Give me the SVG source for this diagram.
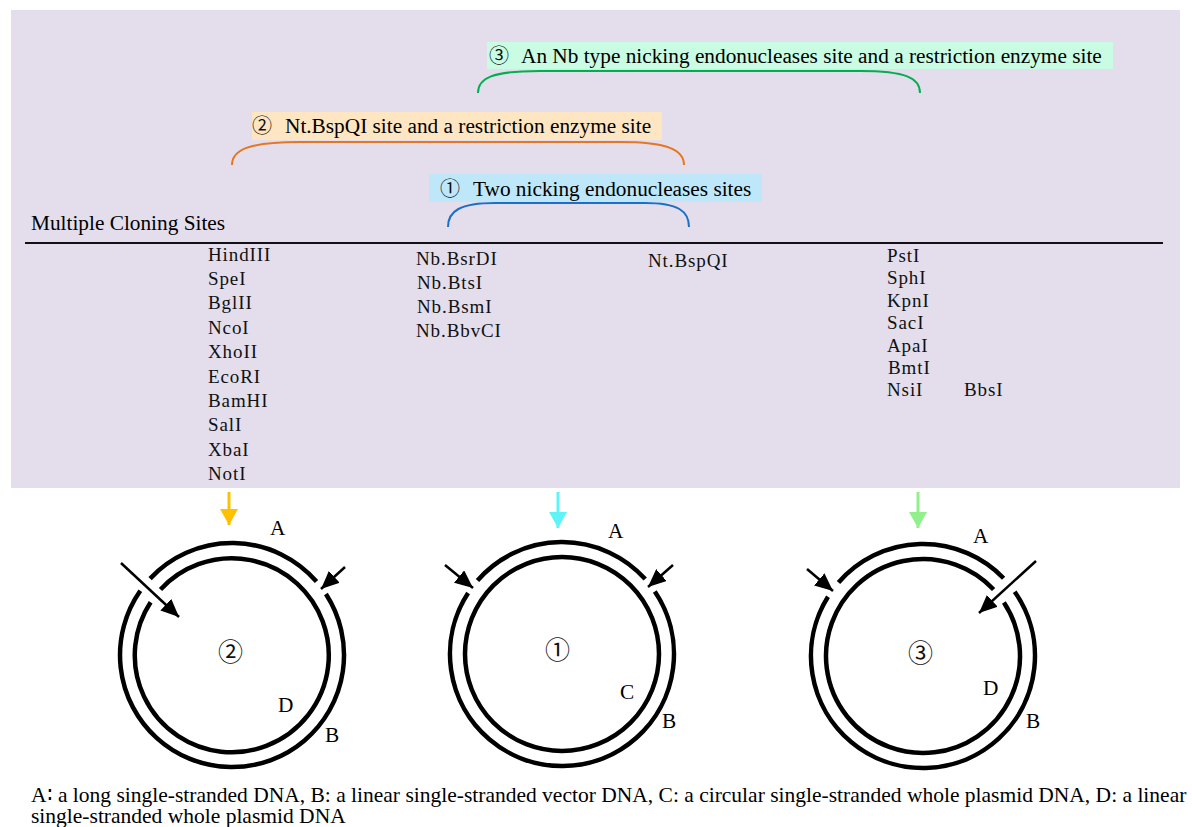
<svg xmlns="http://www.w3.org/2000/svg" width="1192" height="827" viewBox="0 0 1192 827">
<style>
.t{font-family:"Liberation Serif","Times New Roman",serif;font-size:21.3px;fill:#000}
.cap{font-size:21.5px}
.cd{font-family:"Noto Sans CJK JP","DejaVu Sans",sans-serif;font-size:20px;fill:#111}
.cdb{font-size:25px}
.enz{font-family:"Liberation Serif","Times New Roman",serif;font-size:19px;letter-spacing:0.9px;fill:#111}
.ring{fill:none;stroke:#000;stroke-width:4.5}
.arr{fill:none;stroke:#000;stroke-width:2.5}
.brace{fill:none;stroke-width:2}
</style>
<defs>
<marker id="mk" markerUnits="userSpaceOnUse" markerWidth="20" markerHeight="16" refX="18" refY="8" orient="auto"><path d="M0,0 L18,8 L0,16 Z" fill="#000"/></marker>
<marker id="mo" markerUnits="userSpaceOnUse" markerWidth="16" markerHeight="18" refX="16" refY="9" orient="auto"><path d="M0,0 L16,9 L0,18 Z" fill="#FFC000"/></marker>
<marker id="mc" markerUnits="userSpaceOnUse" markerWidth="16" markerHeight="18" refX="16" refY="9" orient="auto"><path d="M0,0 L16,9 L0,18 Z" fill="#5EF4F7"/></marker>
<marker id="mg" markerUnits="userSpaceOnUse" markerWidth="16" markerHeight="18" refX="16" refY="9" orient="auto"><path d="M0,0 L16,9 L0,18 Z" fill="#8FF08C"/></marker>
</defs>

<g id="panel">
<rect x="11" y="10" width="1169" height="478" fill="#E4DEEC"/>
</g>

<g id="label3">
<rect x="487" y="42" width="626" height="27" fill="#C9FCE3"/>
<text class="t" y="63"><tspan class="cd" x="489">③</tspan><tspan x="521">An Nb type nicking endonucleases site and a restriction enzyme site</tspan></text>
</g>
<g id="label2">
<rect x="252" y="112" width="410" height="28" fill="#FEE6C2"/>
<text class="t" y="133"><tspan class="cd" x="252">②</tspan><tspan x="285">Nt.BspQI site and a restriction enzyme site</tspan></text>
</g>
<g id="label1">
<rect x="429" y="174" width="333" height="28" fill="#BEE7FA"/>
<text class="t" y="196"><tspan class="cd" x="440">①</tspan><tspan x="473">Two nicking endonucleases sites</tspan></text>
</g>

<g id="mcs">
<text class="t" x="31" y="230">Multiple Cloning Sites</text>
<line x1="25" y1="243" x2="1163" y2="243" stroke="#111" stroke-width="2"/>
</g>

<g id="enzymes-left">
<text class="enz" x="208" y="261">HindIII</text>
<text class="enz" x="208" y="285">SpeI</text>
<text class="enz" x="208" y="309">BglII</text>
<text class="enz" x="208" y="334">NcoI</text>
<text class="enz" x="208" y="358">XhoII</text>
<text class="enz" x="208" y="383">EcoRI</text>
<text class="enz" x="208" y="407">BamHI</text>
<text class="enz" x="208" y="431">SalI</text>
<text class="enz" x="208" y="456">XbaI</text>
<text class="enz" x="208" y="480">NotI</text>
</g>
<g id="enzymes-nb">
<text class="enz" x="416" y="265">Nb.BsrDI</text>
<text class="enz" x="417" y="289">Nb.BtsI</text>
<text class="enz" x="417" y="313">Nb.BsmI</text>
<text class="enz" x="416" y="337">Nb.BbvCI</text>
</g>
<g id="enzymes-nt">
<text class="enz" x="648" y="267">Nt.BspQI</text>
</g>
<g id="enzymes-right">
<text class="enz" x="887" y="262">PstI</text>
<text class="enz" x="887" y="284">SphI</text>
<text class="enz" x="887" y="307">KpnI</text>
<text class="enz" x="887" y="329">SacI</text>
<text class="enz" x="887" y="352">ApaI</text>
<text class="enz" x="888" y="374">BmtI</text>
<text class="enz" x="887" y="396">NsiI</text>
<text class="enz" x="964" y="396">BbsI</text>
</g>

<g id="plasmid2">
<path class="ring" d="M150.1,578.6 A112,112 0 0 1 316.5,581.5"/>
<path class="ring" d="M325.9,594 A112,112 0 1 1 140.3,590.8"/>
<path class="ring" d="M160.5,589.5 A97,97 0 1 1 150.6,602.2"/>
<text class="cd cdb" x="218" y="661">②</text>
<text class="t" x="270" y="535">A</text>
<text class="t" x="278" y="712">D</text>
<text class="t" x="325" y="742">B</text>
</g>
<g id="plasmid1">
<path class="ring" d="M477.5,580.5 A112,112 0 0 1 645.2,579.1"/>
<path class="ring" d="M654.8,591.4 A112,112 0 1 1 468.1,593"/>
<circle class="ring" cx="562" cy="654" r="97"/>
<text class="cd cdb" x="545" y="659">①</text>
<text class="t" x="608" y="538">A</text>
<text class="t" x="620" y="699">C</text>
<text class="t" x="662" y="728">B</text>
</g>
<g id="plasmid3">
<path class="ring" d="M838.5,582.5 A112,112 0 0 1 1003.6,578.2"/>
<path class="ring" d="M1014.7,591.8 A112,112 0 1 1 828,596.7"/>
<path class="ring" d="M1003.9,602.5 A97,97 0 1 1 993.6,589.5"/>
<text class="cd cdb" x="908" y="662">③</text>
<text class="t" x="973" y="543">A</text>
<text class="t" x="983" y="695">D</text>
<text class="t" x="1026" y="728">B</text>
</g>

<g id="connectors">
<path class="brace" stroke="#00B050" d="M478,93 C478,78 492,71 540,71 L860,71 C906,71 920,78 920,93"/>
<path class="brace" stroke="#E8761E" d="M232,165 C232,150 248,142 300,142 L620,142 C668,142 684,150 684,165"/>
<path class="brace" stroke="#1A70C8" d="M448,227 C448,211 460,203 495,203 L645,203 C678,203 689,211 689,227"/>
<line x1="229" y1="492" x2="229" y2="525" stroke="#FFC000" stroke-width="3" marker-end="url(#mo)"/>
<line x1="558" y1="492" x2="558" y2="528" stroke="#5EF4F7" stroke-width="3" marker-end="url(#mc)"/>
<line x1="918" y1="492" x2="918" y2="528" stroke="#8FF08C" stroke-width="3" marker-end="url(#mg)"/>
<line class="arr" x1="121" y1="563" x2="179" y2="617" marker-end="url(#mk)"/>
<line class="arr" x1="345" y1="567" x2="321" y2="589" marker-end="url(#mk)"/>
<line class="arr" x1="445" y1="565" x2="473" y2="588" marker-end="url(#mk)"/>
<line class="arr" x1="673" y1="565" x2="648" y2="587" marker-end="url(#mk)"/>
<line class="arr" x1="807" y1="569" x2="833" y2="591" marker-end="url(#mk)"/>
<line class="arr" x1="1036" y1="561" x2="979" y2="613" marker-end="url(#mk)"/>
</g>

<g id="caption">
<text class="t cap" x="31" y="802">A∶ a long single-stranded DNA, B: a linear single-stranded vector DNA, C: a circular single-stranded whole plasmid DNA, D: a linear</text>
<text class="t cap" x="31" y="823">single-stranded whole plasmid DNA</text>
</g>
</svg>
